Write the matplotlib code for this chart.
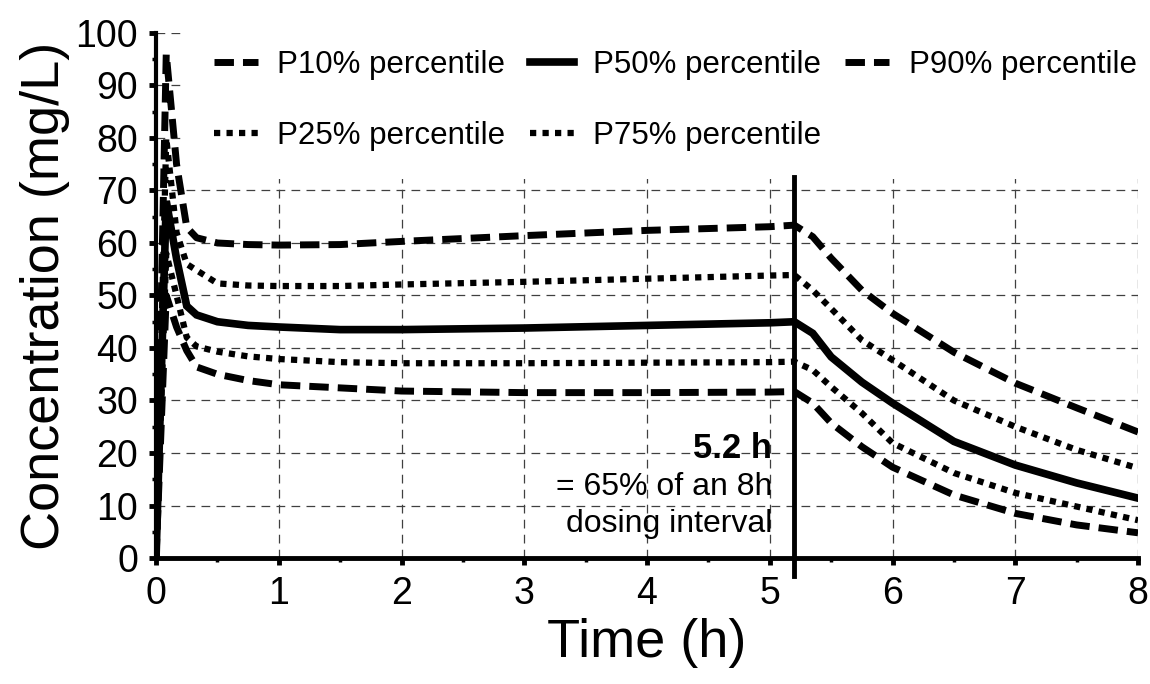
import matplotlib
matplotlib.use("Agg")
import matplotlib.pyplot as plt
from matplotlib.ticker import MultipleLocator

plt.rcParams['font.family'] = ['Liberation Sans', 'DejaVu Sans']

# Sampling times (h)
time_h = [0, 0.083, 0.167, 0.25, 0.33, 0.5, 0.75, 1, 1.5, 2, 3, 4, 5, 5.2,
          5.35, 5.5, 5.75, 6, 6.5, 7, 7.5, 8]

# Concentration percentiles (mg/L)
p10 = [0, 50, 44, 39.5, 36.4, 35, 33.8, 33, 32.4, 31.8, 31.5, 31.5, 31.6, 31.7,
       29.5, 25.7, 21.2, 17.3, 12, 8.5, 6.3, 4.8]
p25 = [0, 58, 50, 42, 40.3, 39.3, 38.4, 37.9, 37.3, 37.1, 37.1, 37.2, 37.3, 37.4,
       35.8, 32.6, 27.6, 21.9, 16.2, 12.4, 9.8, 7.2]
p50 = [0, 68, 57, 48, 46.3, 45, 44.3, 44, 43.5, 43.5, 43.8, 44.3, 44.8, 45,
       42.8, 38.3, 33.5, 29.5, 22.2, 17.7, 14.3, 11.4]
p75 = [0, 80, 62, 56, 54.8, 52.3, 51.9, 51.8, 51.8, 52.1, 52.6, 53.2, 53.8, 53.9,
       51, 47.5, 41.5, 37.7, 30, 25, 20.6, 17.1]
p90 = [0, 96, 75, 63, 61, 60, 59.7, 59.6, 59.7, 60.3, 61.4, 62.4, 63.1, 63.4,
       61.2, 57.1, 51, 46.6, 39.2, 33.3, 28.6, 24]

cut_time = 5.2
x_ticks = [0, 1, 2, 3, 4, 5, 6, 7, 8]
y_ticks = [0, 10, 20, 30, 40, 50, 60, 70, 80, 90, 100]

fig = plt.figure(figsize=(11.5, 6.84), dpi=100)
ax = fig.add_axes([0.1357, 0.1842, 0.8539, 0.7676])

dash_kw = dict(color='black', lw=5, dashes=(2.8, 1.3), dash_capstyle='butt')
dot_kw = dict(color='black', lw=4.5, dashes=(1, 1), dash_capstyle='butt')
solid_kw = dict(color='black', lw=5.5, solid_joinstyle='miter')

ax.plot(time_h, p10, label='P10% percentile', **dash_kw, zorder=3)
ax.plot(time_h, p25, label='P25% percentile', **dot_kw, zorder=3)
ax.plot(time_h, p50, label='P50% percentile', **solid_kw, zorder=3)
ax.plot(time_h, p75, label='P75% percentile', **dot_kw, zorder=3)
ax.plot(time_h, p90, label='P90% percentile', **dash_kw, zorder=3)

ax.axvline(cut_time, ymin=-0.035, ymax=0.725, color='black', lw=3.5,
           clip_on=False, zorder=4)

ax.text(cut_time - 0.18, 19.0, '5.2 h', ha='right', va='baseline',
        fontsize=25, fontweight='bold')
ax.text(cut_time - 0.18, 12.0, '= 65% of an 8h', ha='right', va='baseline',
        fontsize=23)
ax.text(cut_time - 0.18, 4.95, 'dosing interval', ha='right', va='baseline',
        fontsize=23)

ax.set_xlim(0, 8)
ax.set_ylim(0, 100)
ax.set_xticks(x_ticks)
ax.set_yticks(y_ticks)
ax.xaxis.set_minor_locator(MultipleLocator(0.5))
ax.yaxis.set_minor_locator(MultipleLocator(5))
ax.tick_params(axis='both', which='major', labelsize=27, direction='out',
               length=5, width=3.5, pad=8)
ax.tick_params(axis='both', which='minor', direction='out', length=3, width=2.5)

ax.grid(True, which='major', color='0.25', lw=0.9, ls=(0, (7, 5)), zorder=0)
ax.set_axisbelow(True)

for side in ('top', 'right'):
    ax.spines[side].set_visible(False)
ax.spines['left'].set_linewidth(3)
ax.spines['bottom'].set_linewidth(3.5)

ax.set_xlabel('Time (h)', fontsize=39, labelpad=4)
ax.set_ylabel('Concentration (mg/L)', fontsize=39, labelpad=4)

leg = ax.legend(ncol=3, loc='upper left', bbox_to_anchor=(0.0305, 1.021),
                fontsize=22.5, frameon=True, framealpha=1, facecolor='white',
                edgecolor='none', fancybox=False, handlelength=1.4,
                handletextpad=0.62, columnspacing=0.78, labelspacing=1.32,
                borderpad=0.9, borderaxespad=0)
leg.set_zorder(2)

fig.savefig('out.png', dpi=100)
